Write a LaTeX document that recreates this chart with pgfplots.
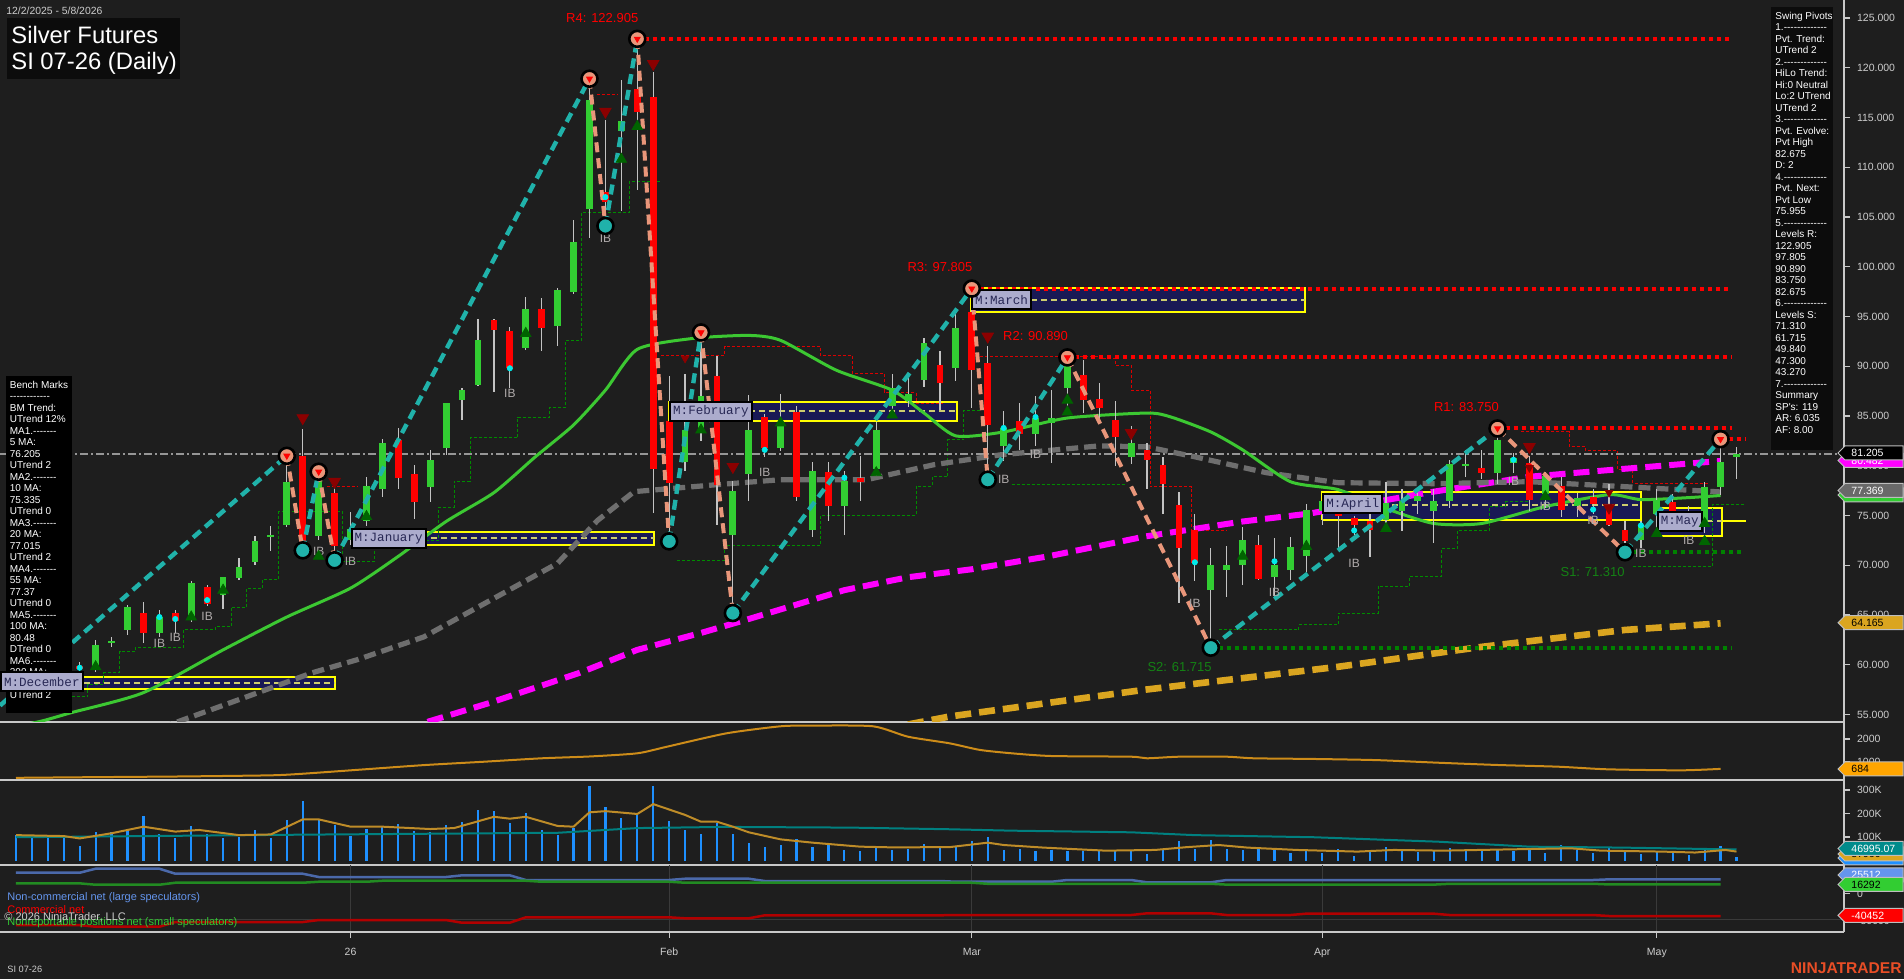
\documentclass[border=0pt]{standalone}
\usepackage{pgfplots}
\pgfplotsset{compat=1.18}
\usepackage{pgfplotstable}
\usepackage{fontspec}
\setmainfont{Liberation Sans}[Ligatures=TeXOff]
\newfontfamily\lblfont{Liberation Mono}[Ligatures=TeXOff]
\newcommand{\fs}[1]{\fontsize{#1}{#1}\selectfont}
\newcommand{\fsl}[2]{\fontsize{#1}{#2}\selectfont}

\definecolor{bg}{RGB}{30,30,30}
\definecolor{sepc}{RGB}{200,200,200}
\definecolor{labc}{RGB}{205,205,205}
\definecolor{gridc}{RGB}{58,58,58}
\definecolor{upc}{RGB}{50,205,50}
\definecolor{dnc}{RGB}{255,0,0}
\definecolor{wickc}{RGB}{195,195,195}
\definecolor{maG}{RGB}{60,200,50}
\definecolor{maGray}{RGB}{110,110,110}
\definecolor{maMag}{RGB}{255,0,255}
\definecolor{maGold}{RGB}{218,165,32}
\definecolor{swUp}{RGB}{32,178,170}
\definecolor{swDn}{RGB}{233,150,122}
\definecolor{lvR}{RGB}{255,0,0}
\definecolor{lvG}{RGB}{0,130,0}
\definecolor{lvGt}{RGB}{20,130,20}
\definecolor{stepG}{RGB}{0,140,0}
\definecolor{stepR}{RGB}{220,0,0}
\definecolor{boxFill}{RGB}{25,25,85}
\definecolor{boxLine}{RGB}{255,255,0}
\definecolor{boxMid}{RGB}{205,205,110}
\definecolor{lblFill}{RGB}{172,172,205}
\definecolor{lblText}{RGB}{40,40,85}
\definecolor{ibc}{RGB}{175,170,170}
\definecolor{triUp}{RGB}{0,100,0}
\definecolor{triDn}{RGB}{139,0,0}
\definecolor{dotc}{RGB}{0,235,235}
\definecolor{volc}{RGB}{30,144,255}
\definecolor{volMA}{RGB}{190,140,40}
\definecolor{volMA2}{RGB}{0,128,128}
\definecolor{p2c}{RGB}{205,140,25}
\definecolor{cotB}{RGB}{75,105,170}
\definecolor{cotG}{RGB}{34,139,34}
\definecolor{cotR}{RGB}{178,0,0}
\definecolor{ntc}{RGB}{232,78,38}
\definecolor{boxblack}{RGB}{12,12,12}
\definecolor{tagb}{RGB}{190,190,190}
\definecolor{cornfl}{RGB}{100,149,237}
\definecolor{limeg}{RGB}{50,205,50}

\pgfplotstableread{
i o h l c
0 57.2 58.0 56.8 57.8
1 57.8 58.6 57.3 58.3
3 58.0 59.3 57.6 59.0
5 59.5 62.5 59.3 62.0
6 62.2 62.8 61.8 62.4
7 63.5 66.0 63.0 65.8
9 63.2 65.5 62.8 64.8
11 64.5 68.4 64.3 68.2
13 67.0 68.8 65.6 68.8
14 68.7 70.7 68.5 69.8
15 70.3 72.9 70.0 72.4
16 72.8 73.9 71.4 73.0
17 74.0 81.0 73.8 78.4
19 72.9 79.4 72.5 79.2
21 72.5 75.4 72.0 73.6
22 74.5 78.9 73.9 78.0
23 77.7 82.7 76.9 82.3
26 77.9 81.6 76.4 80.6
27 81.8 86.3 81.1 86.3
28 86.6 87.8 84.6 87.6
29 88.1 94.8 88.0 92.6
32 91.8 97.0 91.6 95.8
34 94.0 97.9 92.0 97.7
35 97.5 104.7 97.3 102.5
36 105.8 118.9 102.9 116.8
38 113.6 118.8 105.6 114.6
42 80.4 89.2 79.5 83.6
43 83.6 93.4 82.5 87.0
45 73.0 78.5 65.2 77.5
46 79.2 87.1 76.5 83.6
48 81.8 87.2 81.5 84.1
50 73.5 80.4 72.8 79.5
52 76.0 79.5 73.0 78.5
54 79.7 84.4 79.0 83.6
55 86.0 89.2 85.5 87.8
56 86.5 88.8 85.9 87.2
57 88.6 92.8 87.9 92.3
59 89.8 95.5 88.5 93.8
62 82.0 85.5 80.5 83.8
64 83.2 87.0 82.0 84.8
65 84.3 87.6 80.3 84.8
66 87.8 90.89 86.0 90.5
70 80.9 84.0 80.2 82.3
75 67.5 71.7 61.715 70.0
76 69.5 71.9 66.8 70.0
77 70.0 73.8 68.0 72.5
79 68.8 72.7 66.8 70.0
80 69.5 72.8 68.5 71.8
81 70.9 76.2 69.3 75.6
82 75.5 77.0 74.0 76.5
86 74.6 78.4 74.2 76.3
87 75.5 77.7 73.4 76.5
88 76.5 77.3 75.2 77.0
89 75.5 77.7 72.2 76.5
90 76.5 80.6 75.8 80.2
91 80.0 81.6 78.9 80.2
93 79.3 83.75 78.2 82.6
94 80.3 81.3 79.3 80.8
96 77.2 79.4 75.8 79.0
98 76.0 77.3 74.9 76.8
102 72.5 74.5 71.7 74.0
103 75.2 77.7 73.5 76.6
105 74.5 76.0 73.3 75.5
106 74.0 78.4 73.2 77.9
107 77.9 82.675 77.1 80.4
108 80.9 81.9 78.7 81.205
}\upbars

\pgfplotstableread{
i o h l c
2 58.3 59.0 57.8 58.0
4 59.9 60.3 59.2 59.6
8 65.2 66.3 62.2 63.2
10 65.2 65.5 63.2 64.4
12 67.8 68.0 65.9 66.1
18 81.0 83.7 71.5 72.2
20 77.3 78.4 70.5 71.9
24 82.6 83.8 77.7 78.8
25 79.2 80.1 74.7 76.4
30 94.6 94.8 87.4 93.6
31 93.5 93.9 87.8 89.8
33 95.8 96.9 91.5 93.8
37 107.5 114.7 104.1 106.5
39 117.9 122.905 107.7 115.6
40 117.1 119.6 75.3 79.7
41 84.5 89.0 72.4 78.3
44 89.0 91.0 74.0 78.1
47 84.9 85.2 80.9 81.8
49 85.4 86.0 76.5 76.9
51 79.4 80.4 74.5 76.0
53 78.8 81.0 76.5 78.4
58 90.1 91.5 85.6 88.3
60 95.5 97.805 85.8 89.6
61 90.3 92.0 78.6 84.1
63 84.5 86.3 81.6 83.2
67 89.1 90.6 85.3 86.6
68 86.7 88.3 84.3 85.8
69 84.6 86.5 80.0 82.9
71 81.6 82.3 77.7 80.6
72 80.1 80.9 75.2 78.2
73 76.1 77.4 66.2 71.7
74 73.5 75.2 68.4 70.2
78 72.0 73.0 68.5 68.6
83 76.0 76.5 71.5 75.0
84 74.8 75.0 73.0 74.0
85 74.5 75.5 70.8 73.5
92 79.8 81.6 78.7 79.3
95 80.3 81.0 75.5 76.6
97 78.0 78.9 74.9 75.6
99 76.9 77.7 75.2 76.2
100 75.9 78.2 73.9 74.0
101 73.5 74.5 71.31 72.4
104 76.4 77.2 73.5 74.2
}\dnbars

\pgfplotstableread{
i v
0 107
1 103
2 103
3 103
4 60
5 120
6 120
7 133
8 189
9 112
10 96
11 146
12 112
13 96
14 100
15 129
16 96
17 172
18 253
19 176
20 150
21 103
22 133
23 142
24 154
25 125
26 120
27 150
28 163
29 215
30 211
31 159
32 202
33 129
34 107
35 137
36 318
37 228
38 180
39 193
40 318
41 167
42 129
43 112
44 159
45 112
46 73
47 56
48 64
49 90
50 56
51 73
52 43
53 39
54 56
55 43
56 47
57 69
58 60
59 59
60 83
61 101
62 45
63 50
64 40
65 45
66 40
67 40
68 45
69 40
70 45
71 28
72 50
73 83
74 50
75 87
76 50
77 45
78 54
79 45
80 32
81 45
82 32
83 50
84 19
85 40
86 57
87 50
88 37
89 40
90 53
91 45
92 46
93 50
94 40
95 53
96 32
97 65
98 46
99 32
100 56
101 37
102 29
103 36
104 36
105 23
106 46
107 62
108 16
}\vol

\pgfplotsset{
  panel/.style={
    scale only axis, width=922pt,
    xmin=-1.004, xmax=114.75,
    axis x line*=bottom, axis y line*=right,
    axis line style={draw=sepc, line width=0.75pt},
    tick style={draw=sepc, line width=0.6pt},
    tick align=outside, major tick length=3pt,
    ticklabel style={font=\fs{5.25}, text=labc},
    /pgf/number format/assume math mode=true,
    scaled y ticks=false,
    xtick=\empty,
  },
  candle/.style={draw=none, mark=none, error bars/.cd, y dir=both, y explicit, error mark=none},
}

\newcommand{\rtag}[4]{%
  \filldraw[fill=#2, draw=tagb, line width=0.5pt] (1838,#1) -- (1845,{#1-7}) -- (1903,{#1-7}) -- (1903,{#1+7}) -- (1845,{#1+7}) -- cycle;
  \node[anchor=west, inner sep=0, text=#3, font=\fs{5.25}] at (1851,#1) {#4};}

\begin{document}
\begin{tikzpicture}
\fill[bg] (0,0) rectangle (952pt,489.5pt);
\useasboundingbox (0,0) rectangle (952pt,489.5pt);

% ================= PRICE PANEL =================
\begin{axis}[panel, at={(0pt,128.5pt)}, anchor=south west, height=361pt,
  ymin=54.25, ymax=126.81, ytick={55,60,...,125},
  yticklabel={\pgfmathprintnumber[fixed,fixed zerofill,precision=3]{\tick}}]

% monthly boxes
\addplot[draw=boxLine, line width=1pt, fill=boxFill] coordinates {(-0.75,57.6) (20.03,57.6) (20.03,58.8) (-0.75,58.8) (-0.75,57.6)};
\addplot[draw=boxLine, line width=1pt, fill=boxFill] coordinates {(21.0,72.03) (40.05,72.03) (40.05,73.37) (21.0,73.37) (21.0,72.03)};
\addplot[draw=boxLine, line width=1pt, fill=boxFill] coordinates {(41.0,84.5) (59.05,84.5) (59.05,86.4) (41.0,86.4) (41.0,84.5)};
\addplot[draw=boxLine, line width=1pt, fill=boxFill] coordinates {(59.95,95.5) (80.9,95.5) (80.9,97.9) (59.95,97.9) (59.95,95.5)};
\addplot[draw=boxLine, line width=1pt, fill=boxFill] coordinates {(82.0,74.6) (102.0,74.6) (102.0,77.4) (82.0,77.4) (82.0,74.6)};
\addplot[draw=boxLine, line width=1pt, fill=boxFill] coordinates {(103.0,72.9) (107.1,72.9) (107.1,75.8) (103.0,75.8) (103.0,72.9)};
\addplot[boxMid, line width=1pt, dash pattern=on 3pt off 2pt] coordinates {(-0.75,58.2) (20.03,58.2)};
\addplot[boxMid, line width=1pt, dash pattern=on 3pt off 2pt] coordinates {(21.0,72.7) (40.05,72.7)};
\addplot[boxMid, line width=1pt, dash pattern=on 3pt off 2pt] coordinates {(41.0,85.5) (59.05,85.5)};
\addplot[boxMid, line width=1pt, dash pattern=on 3pt off 2pt] coordinates {(59.95,96.7) (80.9,96.7)};
\addplot[boxMid, line width=1pt, dash pattern=on 3pt off 2pt] coordinates {(82.0,76.1) (102.0,76.1)};
\addplot[boxMid, line width=1pt, dash pattern=on 3pt off 2pt] coordinates {(103.0,74.4) (107.1,74.4)};
\addplot[boxLine, line width=1pt] coordinates {(107.1,74.4) (108.6,74.4)};

% trailing step lines
\addplot[const plot, stepG, line width=0.5pt, dash pattern=on 1.5pt off 1pt] coordinates {(3.5,56.8) (4.5,58.0) (5.5,59.2) (6.5,61.3) (7.5,61.7) (10.5,63.5) (12.5,63.8) (13.5,65.8) (14.5,67.7) (15.5,68.6) (16.5,75.4) (20.5,70.4) (22.5,72.5) (26.5,75.8) (27.5,78.4) (28.5,82.8) (31.5,84.9) (33.5,85.9) (34.5,92.6) (35.5,105.5) (38.5,108.6) (40.5,108.6)};
\addplot[const plot, stepG, line width=0.5pt, dash pattern=on 1.5pt off 1pt] coordinates {(41.5,70.5) (44.5,72.0) (50.5,75.0) (56.5,77.9) (57.5,78.9) (58.5,82.6) (59.5,85.6) (60.5,85.6)};
\addplot[const plot, stepG, line width=0.5pt, dash pattern=on 1.5pt off 1pt] coordinates {(62.5,78.1) (69.6,78.1)};
\addplot[const plot, stepG, line width=0.5pt, dash pattern=on 1.5pt off 1pt] coordinates {(75.5,63.5) (80.5,64.0) (83,65.2) (85.5,67.9) (87.5,68.9) (89.5,71.7) (90.5,73.5) (92.5,75.9) (93.5,76.4) (95,76.4)};
\addplot[const plot, stepG, line width=0.5pt, dash pattern=on 1.5pt off 1pt] coordinates {(101.5,69.9) (106.5,76.1) (108.5,76.1)};
\addplot[const plot, stepR, line width=0.5pt, dash pattern=on 1.5pt off 1pt] coordinates {(19.5,77.9) (21.4,77.9)};
\addplot[const plot, stepR, line width=0.5pt, dash pattern=on 1.5pt off 1pt] coordinates {(36.5,117.3) (37.8,117.3)};
\addplot[const plot, stepR, line width=0.5pt, dash pattern=on 1.5pt off 1pt] coordinates {(40.5,91.1) (44.5,92.0) (50.5,91.1) (52.5,89.3) (54.5,87.4) (56.5,86.3) (58.2,86.3)};
\addplot[const plot, stepR, line width=0.5pt, dash pattern=on 1.5pt off 1pt] coordinates {(60.5,91.0) (68,90.8) (69,90.1) (70,87.6) (71.2,77.9) (73.8,73.5) (76,73.5)};
\addplot[const plot, stepR, line width=0.5pt, dash pattern=on 1.5pt off 1pt] coordinates {(94.5,83.4) (97.5,81.9) (98.5,81.5) (100.5,79.6) (101.5,78.2) (106.3,78.2)};

% last price line
\addplot[color={rgb,255:red,150;green,150;blue,150}, line width=0.75pt, dash pattern=on 4pt off 1.5pt on 1pt off 1.5pt] coordinates {(-1.004,81.205) (114.75,81.205)};

% moving averages
\addplot[maGold, line width=3.3pt, dash pattern=on 8pt off 4pt] coordinates {(56.0,54.0) (58.6,54.8) (66.3,56.5) (70.9,57.5) (83,59.8) (92,61.8) (101,63.5) (107,64.165)};
\addplot[maMag, line width=3pt, dash pattern=on 8pt off 4pt] coordinates {(24.5,53.2) (25.9,54.3) (29.8,56.2) (35.4,59.2) (39,61.5) (43,63.2) (46,64.6) (52,67.5) (56,68.8) (60,69.6) (64.8,70.9) (70.9,72.9) (77,74.4) (81.2,75.2) (89,77.4) (95,78.9) (101,79.7) (107,80.482)};
\addplot[maGray, line width=2.6pt, dash pattern=on 6pt off 3pt] coordinates {(8,53.0) (10.2,54.3) (14,56.5) (18.6,59.2) (21.4,60.5) (25.6,62.8) (29.8,66.5) (34,70.2) (36.5,74.5) (38.8,77.4) (44,78.1) (48,78.6) (53.4,78.6) (57.6,80.1) (61.8,81.1) (68,82.0) (71,81.9) (74,80.9) (78.5,79.3) (83,78.3) (89,78.2) (95,78.4) (101,77.9) (107,77.369)};
\addplot[maG, line width=1.5pt, smooth, tension=0.4] coordinates {(-1,53.5) (1.5,54.3) (3.5,55.2) (8,57.2) (13,61.5) (17,64.8) (21,67.7) (24,70.9) (27,74.4) (30,77.3) (32.6,80.9) (35,84.1) (37,87.6) (39,91.7) (42.5,92.8) (46,93.1) (48,92.6) (51.5,89.6) (55,87.6) (57,85.3) (59,83.0) (62,83.4) (66,84.8) (71,85.3) (72.5,84.9) (75,83.4) (77,81.6) (80,78.4) (83,77.6) (86,75.7) (89,74.2) (92,74.2) (96,75.9) (100,77.1) (102,76.6) (105,76.8) (107,77.015)};

% candles: wicks
\addplot[candle, error bar style={solid, line width=0.6pt, draw=wickc}] table[x=i, y expr={(\thisrow{h}+\thisrow{l})/2}, y error expr={(\thisrow{h}-\thisrow{l})/2}] {\upbars};
\addplot[candle, error bar style={solid, line width=0.6pt, draw=wickc}] table[x=i, y expr={(\thisrow{h}+\thisrow{l})/2}, y error expr={(\thisrow{h}-\thisrow{l})/2}] {\dnbars};
% candles: bodies
\addplot[candle, error bar style={solid, line width=3.4pt, draw=upc}] table[x=i, y expr={(\thisrow{o}+\thisrow{c})/2}, y error expr={max(abs(\thisrow{o}-\thisrow{c})/2,0.09)}] {\upbars};
\addplot[candle, error bar style={solid, line width=3.4pt, draw=dnc}] table[x=i, y expr={(\thisrow{o}+\thisrow{c})/2}, y error expr={max(abs(\thisrow{o}-\thisrow{c})/2,0.09)}] {\dnbars};

% swing lines
\addplot[swUp, line width=2.2pt, dash pattern=on 5pt off 3pt, unbounded coords=jump] coordinates {(-1.004,55.9) (17,81.0) (17,nan) (18,71.5) (19,79.4) (19,nan) (20,70.5) (36,118.9) (36,nan) (37,104.1) (39,122.905) (39,nan) (41,72.4) (43,93.4) (43,nan) (45,65.2) (60,97.805) (60,nan) (61,78.6) (66,90.89) (66,nan) (75,61.715) (93,83.75) (93,nan) (101,71.31) (107,82.675)};
\addplot[swDn, line width=2pt, dash pattern=on 5pt off 3pt, unbounded coords=jump] coordinates {(17,81.0) (18,71.5) (18,nan) (19,79.4) (20,70.5) (20,nan) (36,118.9) (37,104.1) (37,nan) (39,122.905) (41,72.4) (41,nan) (43,93.4) (45,65.2) (45,nan) (60,97.805) (61,78.6) (61,nan) (66,90.89) (75,61.715) (75,nan) (93,83.75) (101,71.31)};

% level lines
\addplot[lvR, line width=2pt, dash pattern=on 2pt off 2pt] coordinates {(39,122.905) (107.7,122.905)};
\addplot[lvR, line width=2pt, dash pattern=on 2pt off 2pt] coordinates {(60,97.805) (107.7,97.805)};
\addplot[lvR, line width=2pt, dash pattern=on 2pt off 2pt] coordinates {(66,90.89) (107.7,90.89)};
\addplot[lvR, line width=2pt, dash pattern=on 2pt off 2pt] coordinates {(93,83.75) (107.7,83.75)};
\addplot[lvR, line width=2pt, dash pattern=on 2pt off 2pt] coordinates {(107,82.675) (108.6,82.675)};
\addplot[lvG, line width=1.8pt, dash pattern=on 2pt off 2pt] coordinates {(75,61.715) (107.7,61.715)};
\addplot[lvG, line width=1.8pt, dash pattern=on 2pt off 2pt] coordinates {(101,71.31) (108.5,71.31)};

% pivot circles
\addplot[only marks, mark=*, mark size=4pt, mark options={fill=swDn, draw=black, line width=1.3pt}] coordinates {(17,81.0) (19,79.4) (36,118.9) (39,122.905) (43,93.4) (60,97.805) (66,90.89) (93,83.75) (107,82.675)};
\addplot[only marks, mark=triangle*, mark size=1.7pt, mark options={rotate=180, fill=red, draw=red}] coordinates {(17,81.0) (19,79.4) (36,118.9) (39,122.905) (43,93.4) (60,97.805) (66,90.89) (93,83.75) (107,82.675)};
\addplot[only marks, mark=*, mark size=4pt, mark options={fill=swUp, draw=black, line width=1.3pt}] coordinates {(18,71.5) (20,70.5) (37,104.1) (41,72.4) (45,65.2) (61,78.6) (75,61.715) (101,71.31)};

% signal triangles
\addplot[only marks, mark=triangle*, mark size=3.3pt, mark options={rotate=180, fill=triDn, draw=triDn}] coordinates {(18,84.8) (20,78.4) (37,115.6) (40,120.4) (45,79.9) (61,93.0) (70,83.3) (95,81.9) (100,75.8)};
\addplot[only marks, mark=triangle*, mark size=2.2pt, mark options={rotate=180, fill=triDn, draw=triDn}] coordinates {(42,90.8) (95,79.8) (100,77.3)};
\addplot[only marks, mark=triangle*, mark size=3pt, mark options={fill=triUp, draw=triUp}] coordinates {(5,59.8) (11,64.8) (13,67.5) (19,70.9) (22,74.9) (32,93.3) (38,110.8) (39,114.1) (43,83.6) (48,84.3) (54,79.3) (55,85.1) (66,86.6) (66,85.4) (77,70.9) (81,71.9) (86,73.7) (96,76.9) (103,73.2) (106,72.4) (106,74.2)};
\addplot[only marks, mark=*, mark size=1.3pt, mark options={fill=dotc, draw=dotc}] coordinates {(4,59.7) (9,64.8) (10,64.6) (12,66.5) (31,89.8) (37,107.0) (47,81.6) (52,78.8) (62,83.8) (64,84.9) (74,70.3) (79,70.4) (84,73.5) (94,80.6) (99,75.6) (102,74.0)};

% IB labels
\foreach \a/\b in {9/62.2,10/62.8,12/64.9,19/71.4,21/70.4,31/87.3,37/102.9,47/79.3,62/78.6,64/81.1,74/66.2,79/67.3,84/70.2,94/78.4,96/75.9,99/74.5,102/71.2,105/72.5}{
  \edef\tmp{\noexpand\node[text=ibc, font=\noexpand\fs{6}, inner sep=0] at (axis cs:\a,\b) {IB};}\tmp
}

% level labels
\node[text=lvR, font=\fs{6.5}] at (axis cs:36.8,125.0) {R4: 122.905};
\node[text=lvR, font=\fs{6.5}] at (axis cs:58.0,100.0) {R3: 97.805};
\node[text=lvR, font=\fs{6.5}] at (axis cs:64.0,93.04) {R2: 90.890};
\node[text=lvR, font=\fs{6.5}] at (axis cs:91.05,85.87) {R1: 83.750};
\node[text=lvGt, font=\fs{6.5}] at (axis cs:98.97,69.36) {S1: 71.310};
\node[text=lvGt, font=\fs{6.5}] at (axis cs:73.04,59.81) {S2: 61.715};

% month labels
\node[anchor=west, fill=lblFill, draw=black, line width=1pt, inner xsep=1.5pt, inner ysep=1pt, minimum height=9.5pt, font=\lblfont\fs{6.3}, text=lblText] at (axis cs:21.0,72.69) {M:January};
\node[anchor=west, fill=lblFill, draw=black, line width=1pt, inner xsep=1.5pt, inner ysep=1pt, minimum height=9.5pt, font=\lblfont\fs{6.3}, text=lblText] at (axis cs:41.0,85.5) {M:February};
\node[anchor=west, fill=lblFill, draw=black, line width=1pt, inner xsep=1.5pt, inner ysep=1pt, minimum height=9.5pt, font=\lblfont\fs{6.3}, text=lblText] at (axis cs:59.95,96.7) {M:March};
\node[anchor=west, fill=lblFill, draw=black, line width=1pt, inner xsep=1.5pt, inner ysep=1pt, minimum height=9.5pt, font=\lblfont\fs{6.3}, text=lblText] at (axis cs:82.0,76.16) {M:April};
\node[anchor=west, fill=lblFill, draw=black, line width=1pt, inner xsep=1.5pt, inner ysep=1pt, minimum height=9.5pt, font=\lblfont\fs{6.3}, text=lblText] at (axis cs:103.0,74.35) {M:May};
\end{axis}

% ================= PANEL 2 =================
\begin{axis}[panel, at={(0pt,99.5pt)}, anchor=south west, height=29pt,
  ymin=194, ymax=2749, ytick={1000,2000}, yticklabels={1000,2000}]
\addplot[p2c, line width=1pt, smooth, tension=0.4] coordinates {(0,290) (5,320) (10.4,350) (16,400) (18,470) (21.8,660) (25.6,850) (29.4,1000) (33,1150) (36,1230) (39,1370) (40.8,1650) (44.6,2250) (48,2560) (50,2590) (53.8,2560) (56,2100) (58.6,1810) (60.5,1520) (62.5,1370) (65,1250) (70,1220) (71,1150) (73,1220) (76,1220) (77.7,1150) (81.5,1120) (85.4,1070) (89.2,957) (93,855) (96.8,780) (99.9,665) (104.5,620) (107,684)};
\end{axis}

% ================= VOLUME =================
\begin{axis}[panel, at={(0pt,57pt)}, anchor=south west, height=42.5pt,
  ymin=-19, ymax=342.5, ytick={100,200,300}, yticklabels={100K,200K,300K}]
\addplot[ycomb, volc, line width=1.1pt] table[x=i, y=v] {\vol};
\addplot[volMA2, line width=1pt] coordinates {(0,99) (18,110) (34,118) (39,138) (44.5,143) (52.4,140) (58.6,133) (62.5,127) (70,120) (74,108) (81.5,99) (89.3,80) (95,59) (100.8,55) (108,47)};
\addplot[volMA, line width=1pt] coordinates {(0,108) (3,104) (4,94) (6,116) (8,144) (10,123) (11.5,130) (14,108) (16,111) (18,175) (19,175) (21,144) (23,144) (26,134) (27.5,138) (30,186) (31,178) (32,186) (34,147) (35,144) (36,205) (37,210) (39,198) (40,240) (42,194) (43,165) (44,165) (45,144) (46,120) (48,90) (50,76) (53,59) (55,56) (58.6,57) (61,76) (62,66) (64.5,55) (68.4,42) (71.5,45) (73.5,57) (75.5,66) (77.3,55) (80.4,45) (84.2,38) (86.5,45) (89.6,42) (93.4,47) (97.6,52) (99.5,42) (103.3,38) (105.4,34) (107.3,45) (108,38)};
\end{axis}

% ================= COT =================
\begin{axis}[panel, at={(0pt,23.5pt)}, anchor=south west, height=33.5pt,
  ymin=-69.2, ymax=51.3, ytick={-50,0}, yticklabels={-50000,0},
  xtick={21,41,60,82,103}, xticklabels={26,Feb,Mar,Apr,May},
  xmajorgrids, x grid style={draw=gridc, line width=0.5pt},
  xticklabel style={yshift=-1.5pt}]
\addplot[gridc, line width=0.5pt] coordinates {(-1.004,-46) (114.75,-46)};
\addplot[cotB, line width=1.25pt] coordinates {(0,37.4) (4,37.4) (5,44.6) (9,44.6) (10,35.6) (18,35.6) (19,29.7) (27,29.7) (28,32.7) (31,32.7) (32,24.3) (41,24.3) (42,26.6) (46,26.6) (47,22.5) (58,22.5) (59,21.2) (65,21.2) (66,24.3) (70,24.3) (71,20.1) (75,20.1) (76,24.3) (99,24.3) (100,25.5) (107,25.5)};
\addplot[cotG, line width=1.25pt] coordinates {(0,18.3) (4,18.3) (5,15.8) (9,15.8) (10,19.4) (18,19.4) (19,21.2) (22,21.2) (23,23.0) (32,23.0) (33,21.2) (41,21.2) (42,19.4) (60,19.4) (61,17.5) (75,17.5) (76,16.0) (89,16.0) (90,17.5) (99,17.5) (100,16.3) (107,16.3)};
\addplot[cotR, line width=1.25pt] coordinates {(0,-57) (4,-57) (5,-59.7) (9,-59.7) (10,-51.3) (18,-51.3) (19,-47.7) (27,-47.7) (28,-52.5) (31,-52.5) (32,-42.8) (41,-42.8) (42,-44.6) (46,-44.6) (47,-39.2) (58,-39.2) (59,-38.7) (70,-38.7) (71,-35.6) (75,-35.6) (76,-38.7) (80,-38.7) (81,-36.2) (89,-36.2) (90,-38.7) (99,-38.7) (100,-40.45) (107,-40.45)};
\end{axis}

% ================= OVERLAYS =================
\begin{scope}[x=0.5pt, y=-0.5pt, shift={(0pt,489.5pt)}]
\node[anchor=west, inner sep=0, text=labc, font=\fs{5.2}] at (6,11) {12/2/2025 - 5/8/2026};
\fill[boxblack] (7,18) rectangle (180,79);
\node[anchor=west, inner sep=0, text=white, font=\fs{11.9}] at (11,35) {Silver Futures};
\node[anchor=west, inner sep=0, text=white, font=\fs{11.9}] at (11,63) {SI 07-26 (Daily)};

\fill[black] (6,376) rectangle (72,713);
\node[anchor=north west, inner sep=0, align=left, text=white, font=\fsl{5}{5.75}] at (9.5,380.5) {Bench Marks\\------------\\BM Trend:\\UTrend 12\%\\MA1.-------\\5 MA:\\76.205\\UTrend 2\\MA2.-------\\10 MA:\\75.335\\UTrend 0\\MA3.-------\\20 MA:\\77.015\\UTrend 2\\MA4.-------\\55 MA:\\77.37\\UTrend 0\\MA5.-------\\100 MA:\\80.48\\DTrend 0\\MA6.-------\\200 MA:\\64.165\\UTrend 2};
\node[anchor=west, fill=lblFill, draw=black, line width=1pt, inner xsep=1.5pt, inner ysep=1pt, minimum height=9.5pt, font=\lblfont\fs{6.3}, text=lblText] at (0,682) {M:December};

\fill[boxblack] (1771,7) rectangle (1833,450);
\node[anchor=north west, inner sep=0, align=left, text=white, font=\fsl{5}{5.75}] at (1775,11.5) {Swing Pivots\\1.-------------\\Pvt. Trend:\\UTrend 2\\2.-------------\\HiLo Trend:\\Hi:0 Neutral\\Lo:2 UTrend\\UTrend 2\\3.-------------\\Pvt. Evolve:\\Pvt High\\82.675\\D: 2\\4.-------------\\Pvt. Next:\\Pvt Low\\75.955\\5.-------------\\Levels R:\\122.905\\97.805\\90.890\\83.750\\82.675\\6.-------------\\Levels S:\\71.310\\61.715\\49.840\\47.300\\43.270\\7.-------------\\Summary\\SP's: 119\\AR: 6.035\\AF: 8.00};

\rtag{460.5}{maMag}{white}{80.482}
\rtag{453}{black}{white}{81.205}
\rtag{495}{upc}{black}{77.015}
\rtag{490.5}{{rgb,255:red,105;green,105;blue,105}}{white}{77.369}
\rtag{622.7}{maGold}{black}{64.165}
\rtag{769}{{rgb,255:red,255;green,165;blue,0}}{black}{684}
\rtag{858}{volc}{white}{17024}
\rtag{854}{maGold}{black}{37960}
\rtag{848.5}{{rgb,255:red,0;green,139;blue,139}}{white}{46995.07}
\rtag{875}{cornfl}{white}{25512}
\rtag{884.5}{upc}{black}{16292}
\rtag{915.4}{red}{white}{-40452}

\node[anchor=west, inner sep=0, text=cornfl, font=\fs{5.5}] at (7,897.7) {Non-commercial net (large speculators)};
\node[anchor=west, inner sep=0, text=red, font=\fs{5.5}] at (7,910) {Commercial net};
\node[anchor=west, inner sep=0, text=limeg, font=\fs{5.5}] at (7,922.7) {Nonreportable positions net (small speculators)};
\node[anchor=west, inner sep=0, text=labc, font=\fs{5.5}] at (4,918) {© 2026 NinjaTrader, LLC};
\node[anchor=west, inner sep=0, text=labc, font=\fs{4.6}] at (7,969) {SI 07-26};
\node[anchor=east, inner sep=0, text=ntc, font=\bfseries\fs{7.8}] at (1902,968) {NINJATRADER};
\end{scope}
\end{tikzpicture}
\end{document}
